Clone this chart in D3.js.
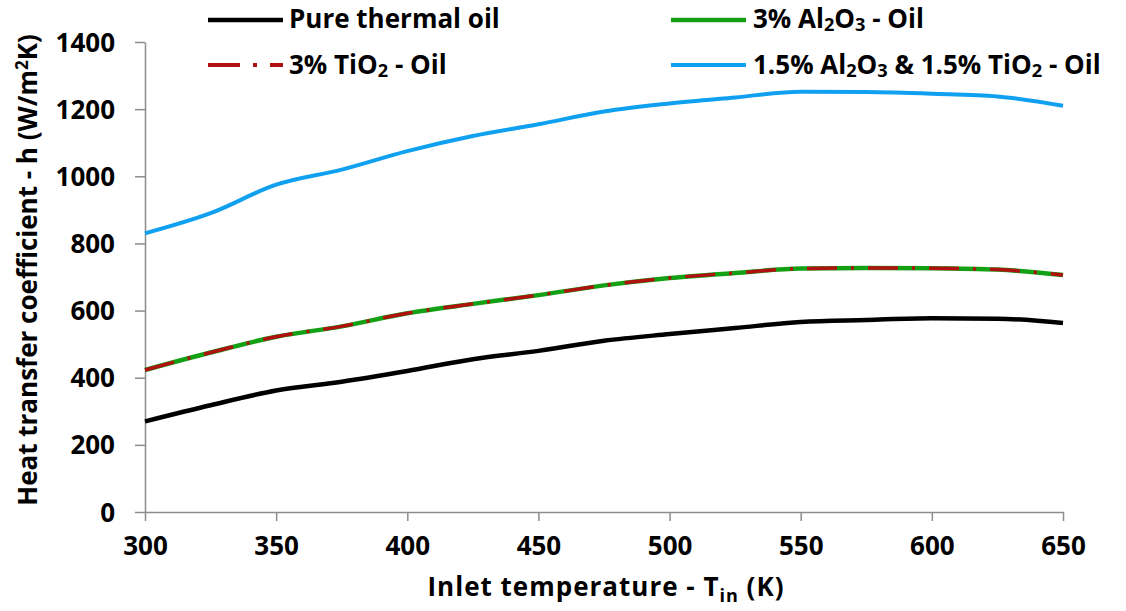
<!DOCTYPE html>
<html>
<head>
<meta charset="utf-8">
<script src="https://cdn.jsdelivr.net/npm/d3@7"></script>
<style>
  html, body { margin: 0; padding: 0; background: #fff; }
  svg { display: block; font-family: "Open Sans", "Liberation Sans", sans-serif; font-weight: bold; }
</style>
</head>
<body>
<svg id="chart" width="1126" height="611"></svg>
<script>
// Inlet temperature (K)
const temperatures = [300, 325, 350, 375, 400, 425, 450, 475, 500, 525, 550, 575, 600, 625, 650];
// Heat transfer coefficient h (W/m²K) for each fluid
const pureOil   = [270, 318, 362, 388, 420, 455, 480, 510, 530, 548, 566, 572, 577, 576, 563];
const al2o3Oil  = [423, 475, 522, 553, 592, 620, 646, 675, 697, 712, 725, 727, 726, 722, 706];
const tio2Oil   = [423, 475, 522, 553, 592, 620, 646, 675, 697, 712, 725, 727, 726, 722, 706];
const hybridOil = [830, 890, 975, 1020, 1075, 1120, 1155, 1193, 1217, 1235, 1252, 1251, 1246, 1238, 1210];

const xTicks = [300, 350, 400, 450, 500, 550, 600, 650];
const yTicks = [0, 200, 400, 600, 800, 1000, 1200, 1400];

const svg = d3.select("#chart");
const x = d3.scaleLinear().domain([300, 650]).range([145, 1063]);
const y = d3.scaleLinear().domain([0, 1400]).range([512, 42]);

const axisColor = "#8c8c8c";

// Y axis: ticks pointing outward to the left
const yAxis = svg.append("g")
  .attr("transform", `translate(${x(300)},0)`)
  .call(d3.axisLeft(y).tickValues(yTicks).tickFormat(d3.format("d"))
    .tickSize(10).tickSizeOuter(0).tickPadding(20));
yAxis.select(".domain").attr("stroke", axisColor).attr("stroke-width", 1.5);
yAxis.selectAll(".tick line").attr("stroke", axisColor).attr("stroke-width", 1.5);
yAxis.selectAll(".tick text")
  .attr("fill", "#000").attr("font-size", 26).attr("font-weight", "bold")
  .attr("font-family", "'Open Sans', sans-serif").attr("dy", "0.35em");

// X axis: ticks pointing down
const xAxis = svg.append("g")
  .attr("transform", `translate(0,${y(0)})`)
  .call(d3.axisBottom(x).tickValues(xTicks).tickFormat(d3.format("d"))
    .tickSize(9).tickSizeOuter(0).tickPadding(16));
xAxis.select(".domain").attr("stroke", axisColor).attr("stroke-width", 1.5);
xAxis.selectAll(".tick line").attr("stroke", axisColor).attr("stroke-width", 1.5);
xAxis.selectAll(".tick text")
  .attr("fill", "#000").attr("font-size", 26).attr("font-weight", "bold")
  .attr("font-family", "'Open Sans', sans-serif");

// Series
const series = [
  { name: "pure",   values: pureOil,   color: "#000000", width: 4.5, dash: null },
  { name: "al2o3",  values: al2o3Oil,  color: "#14a014", width: 4.5, dash: null },
  { name: "tio2",   values: tio2Oil,   color: "#b01010", width: 3.5, dash: "30 14 3 14" },
  { name: "hybrid", values: hybridOil, color: "#10a0f0", width: 4,   dash: null }
];

const line = d3.line()
  .x((d, i) => x(temperatures[i]))
  .y(d => y(d))
  .curve(d3.curveMonotoneX);

svg.append("g").selectAll("path")
  .data(series)
  .join("path")
  .attr("fill", "none")
  .attr("stroke", d => d.color)
  .attr("stroke-width", d => d.width)
  .attr("stroke-dasharray", d => d.dash)
  .attr("stroke-linejoin", "round")
  .attr("d", d => line(d.values));

// Legend
const legend = svg.append("g");
function legendLine(x0, x1, yy, s) {
  legend.append("line")
    .attr("x1", x0).attr("x2", x1).attr("y1", yy).attr("y2", yy)
    .attr("stroke", s.color).attr("stroke-width", s.width)
    .attr("stroke-dasharray", s.dash);
}
// Text with chemical subscripts; baseline given directly
function richText(x0, baseline, parts, size) {
  const t = legend.append("text")
    .attr("x", x0).attr("y", baseline)
    .attr("font-size", size).attr("fill", "#000");
  let lowered = false;
  parts.forEach(p => {
    if (typeof p === "string") {
      t.append("tspan").attr("dy", lowered ? -3 : 0).text(p);
      lowered = false;
    } else {
      t.append("tspan").attr("font-size", size * 0.7).attr("dy", lowered ? 0 : 3).text(p.sub);
      lowered = true;
    }
  });
  return t;
}

legendLine(208, 283, 20, series[0]);
richText(289, 28, ["Pure thermal oil"], 26);

legendLine(208, 283, 65, { color: "#b01010", width: 4, dash: "32 13 4 13" });
richText(289, 74, ["3% TiO", { sub: "2" }, " - Oil"], 26);

legendLine(671, 746, 20, series[1]);
richText(753, 28, ["3% Al", { sub: "2" }, "O", { sub: "3" }, " - Oil"], 26);

legendLine(671, 746, 65, series[3]);
richText(753, 74, ["1.5% Al", { sub: "2" }, "O", { sub: "3" }, " & 1.5% TiO", { sub: "2" }, " - Oil"], 26);

// Axis titles
const xt = svg.append("text")
  .attr("x", 606).attr("y", 596).attr("text-anchor", "middle")
  .attr("font-size", 26).attr("letter-spacing", 1).attr("fill", "#000");
xt.append("tspan").text("Inlet temperature - T");
xt.append("tspan").attr("font-size", 18).attr("dy", 6).text("in");
xt.append("tspan").attr("dy", -6).text(" (K)");

const yt = svg.append("text")
  .attr("transform", "translate(37,270) rotate(-90)")
  .attr("text-anchor", "middle")
  .attr("font-size", 26).attr("fill", "#000");
yt.append("tspan").text("Heat transfer coefficient - h (W/m");
yt.append("tspan").attr("font-size", 17).attr("dy", -9).text("2");
yt.append("tspan").attr("dy", 9).text("K)");
</script>
</body>
</html>
